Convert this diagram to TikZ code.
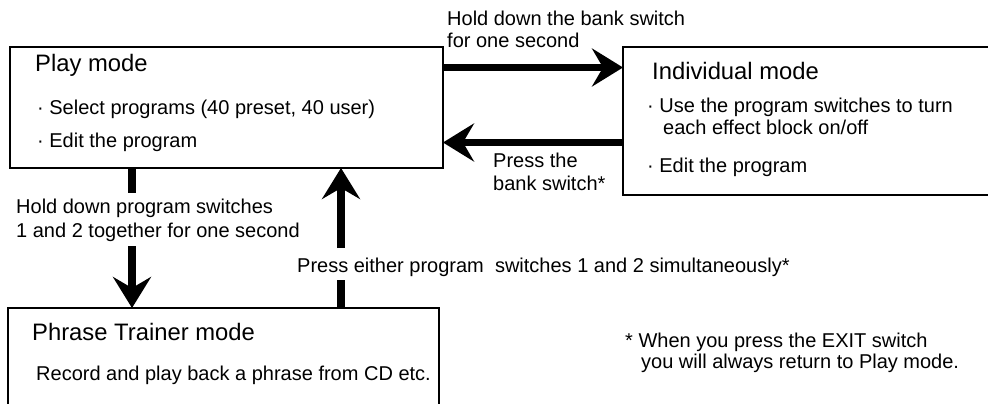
\documentclass[tikz,border=0pt]{standalone}
\usepackage{fontspec}
\setmainfont{Liberation Sans}
\usetikzlibrary{arrows.meta}
\begin{document}
\begin{tikzpicture}[x=1pt,y=-1pt,
  modebox/.style={draw, line width=2pt, rectangle, inner sep=0pt, outer sep=0pt, anchor=north west},
  body/.style={anchor=base west, inner sep=0pt, font=\fontsize{20}{22}\selectfont},
  title/.style={anchor=base west, inner sep=0pt, font=\fontsize{23.8}{26}\selectfont},
  shaft/.style={line width=7.5pt},
  bigarrow/.style={line width=7.5pt, -{Stealth[length=31pt,width=38pt,inset=11pt]}},
]
\useasboundingbox (0,0) rectangle (988,404);
\clip (0,0) rectangle (988,404);

% boxes
\node[modebox, minimum width=433pt, minimum height=121pt] (play) at (10,47) {};
\node[modebox, minimum width=380pt, minimum height=148pt] (indiv) at (623,47) {};
\node[modebox, minimum width=431pt, minimum height=110pt] (phrase) at (8,308) {};

% Play mode text
\node[title] (playT) at (35,72) {Play mode};
\node[body] (playA) at (37,114) {· Select programs (40 preset, 40 user)};
\node[body] (playB) at (37,147) {· Edit the program};

% Individual mode text
\node[title] (indT) at (652,79) {Individual mode};
\node[body] (indA) at (647,112) {· Use the program switches to turn};
\node[body] (indA2) at (663,134) {each effect block on/off};
\node[body] (indB) at (647,172) {· Edit the program};

% Phrase trainer text
\node[title] (phT) at (32,340) {Phrase Trainer mode};
\node[body] (phA) at (36,380) {Record and play back a phrase from CD etc.};

% labels
\node[body] (l1) at (447,26) {Hold down the bank switch};
\node[body] (l2) at (447,48) {for one second};
\node[body] (l3) at (493,167) {Press the};
\node[body] (l4) at (493,190) {bank switch*};
\node[body] (l5) at (16,213) {Hold down program switches};
\node[body] (l6) at (16,237) {1 and 2 together for one second};
\node[body] (l7) at (297,272) {Press either program\ \ switches 1 and 2 simultaneously*};
\node[body] (n1) at (625,347) {* When you press the EXIT switch};
\node[body] (n2) at (641,368) {you will always return to Play mode.};

% horizontal arrows
\draw[bigarrow] (play.east |- 0,67.5) -- (indiv.west |- 0,67.5);
\draw[bigarrow] (indiv.west |- 0,142.5) -- (play.east |- 0,142.5);

% down arrow (interrupted by label)
\coordinate (d1) at (132,193);
\coordinate (d2) at (132,246);
\draw[shaft] (play.south -| d1) -- (d1);
\draw[bigarrow] (d2) -- (phrase.north -| d2);

% up arrow (interrupted by label)
\coordinate (u1) at (341,280);
\coordinate (u2) at (341,248);
\draw[shaft] (phrase.north -| u1) -- (u1);
\draw[bigarrow] (u2) -- (play.south -| u2);
\end{tikzpicture}
\end{document}
